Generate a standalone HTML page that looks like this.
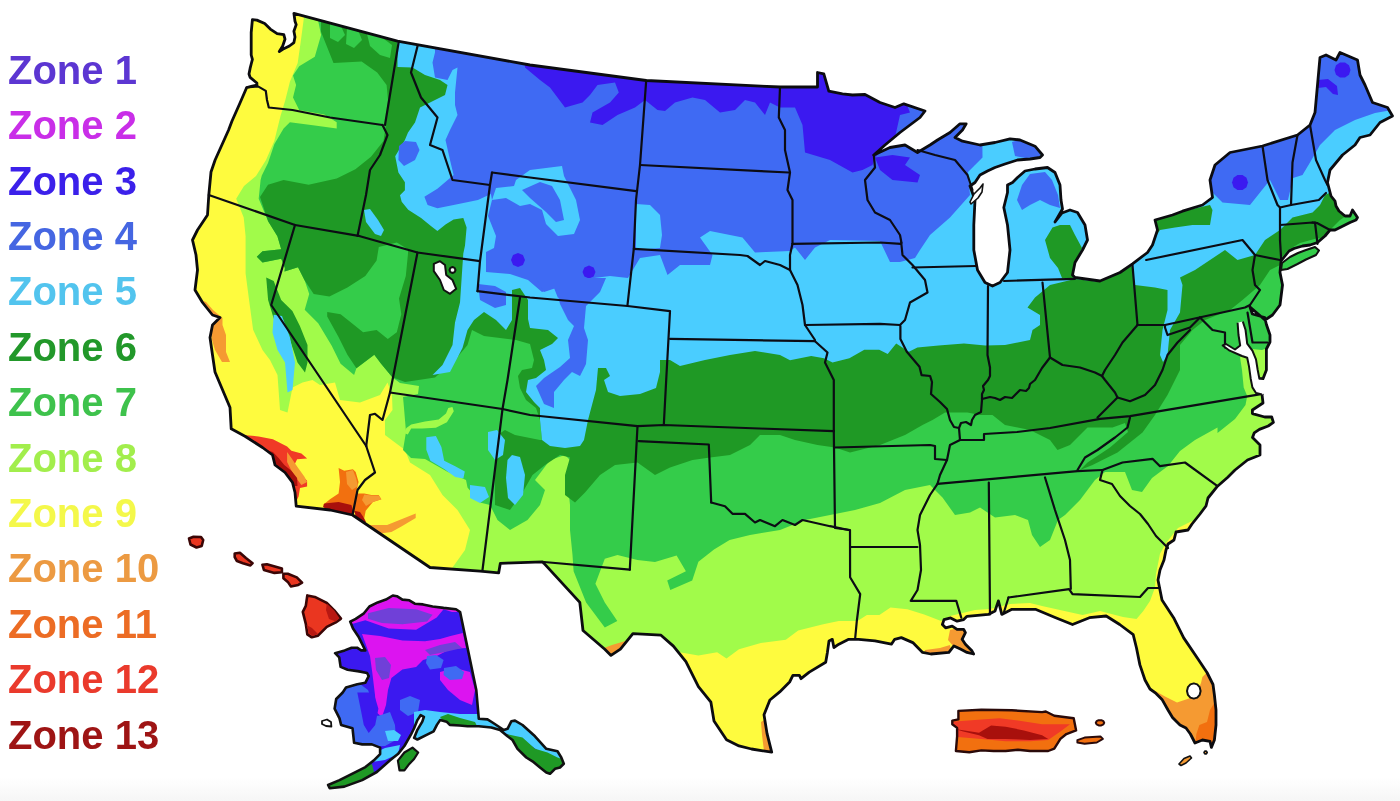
<!DOCTYPE html><html><head><meta charset="utf-8"><title>USDA Plant Hardiness Zones</title><style>
html,body{margin:0;padding:0;background:#fff;}body{width:1400px;height:801px;overflow:hidden;position:relative;}
.leg{position:absolute;left:0;top:0;margin:0;padding:0;list-style:none;}
.leg li{position:absolute;left:8px;white-space:nowrap;font-family:"Liberation Sans",Arial,sans-serif;font-weight:bold;font-size:40px;line-height:1;}
svg{position:absolute;left:0;top:0;filter:blur(0.45px);}
.fade{position:absolute;left:0;right:0;bottom:0;height:24px;background:linear-gradient(#fff,#f6f6f6);}
</style></head><body>
<div class="fade"></div>
<svg width="1400" height="801" viewBox="0 0 1400 801">
<defs><clipPath id="us"><path d="M252.4,19.6 L256.9,20.1 L264.7,23.5 L270.3,29.1 L277.1,33.6 L283.8,34.7 L285.0,39.2 L282.7,46.0 L279.3,51.6 L282.7,49.3 L289.4,46.0 L293.9,42.6 L295.0,37.0 L293.9,31.3 L296.2,24.6 L295.0,21.2 L293.9,13.4 L397.5,41.2 L530.0,65.0 L646.2,80.5 L780.0,87.0 L817.5,87.0 L817.5,72.5 L823.8,73.8 L828.8,91.2 L842.5,93.8 L852.5,95.0 L865.0,94.5 L880.0,102.5 L895.0,107.5 L903.8,103.8 L925.0,111.0 L920.0,117.5 L900.0,132.5 L885.0,145.0 L873.8,155.0 L890.0,147.5 L905.0,145.0 L917.5,152.5 L930.0,145.0 L937.5,140.0 L950.0,132.5 L960.0,123.8 L966.2,123.8 L962.5,130.0 L955.0,137.5 L962.5,141.2 L980.0,145.0 L995.0,142.5 L1010.0,138.8 L1020.0,140.0 L1035.0,146.2 L1042.5,155.0 L1040.0,157.5 L1030.0,159.0 L1017.5,160.0 L1005.0,164.0 L995.0,167.5 L987.5,171.0 L980.0,175.0 L975.0,182.5 L970.0,186.0 L975.0,200.0 L973.8,225.0 L973.8,250.0 L977.5,270.0 L985.0,282.5 L992.5,286.0 L1000.0,282.5 L1007.5,272.5 L1010.0,250.0 L1007.5,225.0 L1003.8,207.5 L1007.5,192.5 L1007.5,185.0 L1012.5,182.5 L1017.5,177.5 L1025.0,171.0 L1035.0,169.0 L1047.5,167.5 L1055.0,172.5 L1060.0,185.0 L1061.0,200.0 L1062.5,209.0 L1055.0,222.0 L1062.0,213.0 L1070.0,210.0 L1077.5,212.5 L1085.0,225.0 L1087.5,240.0 L1082.5,250.0 L1075.0,262.5 L1072.5,275.0 L1075.0,277.5 L1100.0,281.0 L1120.0,272.5 L1132.5,263.8 L1147.5,252.5 L1152.5,245.0 L1157.5,230.0 L1155.0,220.0 L1172.5,215.0 L1182.5,211.2 L1202.5,205.0 L1212.5,197.5 L1210.0,180.0 L1215.0,165.0 L1230.0,152.5 L1262.5,146.0 L1297.5,135.0 L1310.0,125.0 L1315.0,112.5 L1320.0,57.5 L1326.0,55.0 L1336.0,60.0 L1340.0,52.5 L1357.5,60.0 L1360.0,75.0 L1365.0,85.0 L1372.5,102.5 L1387.5,107.5 L1392.5,116.0 L1380.0,122.5 L1370.0,135.0 L1360.0,137.5 L1355.0,145.0 L1342.5,155.0 L1330.0,170.0 L1327.5,182.5 L1331.0,196.0 L1335.0,201.0 L1336.0,206.0 L1339.0,211.0 L1345.0,216.0 L1350.0,216.0 L1352.5,210.0 L1357.5,217.5 L1356.0,220.0 L1350.0,222.5 L1340.0,227.5 L1335.0,230.0 L1330.0,230.0 L1325.0,236.0 L1317.5,242.5 L1310.0,245.0 L1302.5,246.0 L1294.0,248.5 L1289.0,251.0 L1285.0,256.0 L1281.0,261.0 L1280.0,272.5 L1282.5,285.0 L1280.0,305.0 L1272.5,315.0 L1265.0,320.0 L1257.0,313.0 L1250.0,307.0 L1252.4,314.0 L1264.7,317.5 L1266.4,324.5 L1270.0,335.0 L1270.0,342.0 L1266.4,349.0 L1266.4,370.0 L1263.0,378.7 L1259.4,378.7 L1262.0,394.4 L1263.0,403.0 L1252.4,410.0 L1252.4,413.6 L1264.7,417.0 L1271.7,417.0 L1273.4,422.4 L1268.2,426.0 L1259.4,429.4 L1254.2,432.9 L1252.5,437.5 L1260.0,445.0 L1260.0,455.0 L1247.5,460.0 L1235.0,470.0 L1227.5,477.5 L1217.5,486.2 L1208.0,498.0 L1206.0,506.0 L1200.0,514.0 L1192.0,524.0 L1188.0,530.0 L1176.0,532.0 L1174.0,540.0 L1168.0,544.0 L1166.0,550.0 L1164.0,560.0 L1160.0,570.0 L1158.0,580.0 L1160.0,590.0 L1162.0,600.0 L1173.6,617.7 L1183.7,637.9 L1198.0,659.0 L1207.0,672.5 L1213.0,684.5 L1214.4,695.0 L1216.0,710.0 L1216.0,725.0 L1214.4,740.0 L1211.4,747.4 L1210.0,741.4 L1202.4,740.0 L1195.0,743.0 L1190.4,734.0 L1186.0,728.0 L1180.0,725.0 L1172.5,717.4 L1168.0,710.0 L1162.0,699.4 L1156.0,693.4 L1150.0,689.0 L1145.0,680.0 L1139.9,664.9 L1136.5,648.0 L1133.2,634.6 L1119.7,624.5 L1106.2,616.0 L1089.4,617.7 L1072.5,624.5 L1055.7,617.7 L1035.4,609.3 L1022.0,609.3 L1011.9,609.3 L1001.8,614.4 L998.4,600.9 L995.0,611.0 L988.3,614.4 L967.0,616.3 L963.7,619.6 L957.1,621.2 L950.6,617.9 L944.0,619.6 L942.4,624.5 L945.6,627.8 L952.2,626.1 L957.1,629.4 L963.7,629.4 L965.4,632.7 L962.1,639.3 L965.4,644.2 L971.9,650.8 L973.6,654.0 L967.0,652.4 L960.4,649.1 L953.9,645.9 L948.9,652.4 L930.9,654.0 L922.6,652.4 L912.8,642.6 L901.3,637.6 L894.7,639.3 L891.4,644.2 L875.0,640.9 L858.6,639.3 L848.7,639.3 L838.9,644.2 L833.9,647.5 L832.3,639.3 L829.0,641.0 L827.4,652.4 L825.7,662.3 L809.3,672.1 L801.0,678.7 L799.4,675.4 L792.9,675.4 L789.6,682.0 L779.7,691.9 L769.9,700.0 L764.0,714.7 L767.0,733.4 L771.7,752.2 L751.5,749.0 L739.0,745.9 L726.5,739.7 L714.0,721.0 L710.9,702.2 L698.4,686.6 L685.9,661.7 L673.4,646.1 L661.0,635.2 L632.9,633.6 L620.4,649.2 L611.0,655.4 L604.8,649.2 L583.0,630.5 L579.8,602.4 L544.0,563.4 L542.4,561.8 L500.3,563.4 L498.7,572.8 L480.0,571.2 L430.0,567.5 L352.5,515.0 L330.0,510.0 L296.2,506.2 L295.0,492.5 L292.5,482.5 L285.0,472.5 L275.0,465.0 L272.5,455.0 L262.5,447.5 L245.0,436.2 L231.2,428.8 L230.0,407.5 L215.0,372.0 L212.5,355.0 L210.0,337.5 L212.5,325.0 L220.0,317.5 L212.5,315.0 L202.5,302.5 L195.0,290.0 L197.5,270.0 L196.0,255.0 L192.5,240.0 L197.5,230.0 L207.5,215.0 L208.8,195.0 L211.0,172.0 L215.1,160.0 L228.6,130.0 L232.0,121.0 L240.0,103.0 L246.7,87.5 L251.2,86.4 L256.9,85.0 L256.9,83.0 L250.1,77.4 L249.0,74.0 L250.1,68.4 L251.2,64.0 L252.4,59.4 L251.2,55.0 L251.2,32.5Z"/></clipPath><clipPath id="ak"><path d="M350.2,621.6 L355.7,618.8 L363.9,613.3 L369.4,606.5 L377.7,602.4 L385.9,599.6 L392.8,595.5 L396.9,596.2 L402.4,599.6 L409.3,600.3 L414.8,603.7 L423.0,604.4 L432.6,606.5 L443.6,607.9 L456.0,609.2 L460.1,612.0 L476.3,690.0 L478.8,718.8 L487.5,719.4 L492.5,722.5 L503.8,730.0 L507.5,728.8 L511.3,721.3 L515.0,720.6 L522.5,725.0 L535.0,736.3 L546.3,748.8 L557.5,751.3 L561.3,757.5 L563.8,763.8 L560.0,767.5 L555.0,768.8 L550.0,773.8 L546.3,772.5 L540.0,767.5 L532.5,761.3 L526.3,757.5 L517.5,748.8 L512.5,740.0 L507.5,736.3 L500.0,730.0 L491.3,727.5 L478.8,726.3 L467.5,726.3 L459.6,725.5 L449.8,724.9 L446.6,721.7 L440.1,720.1 L436.9,724.9 L433.6,731.4 L427.1,734.7 L417.4,739.5 L414.1,737.9 L417.4,729.8 L422.3,721.7 L423.9,716.8 L420.6,715.2 L417.4,720.1 L414.1,728.2 L410.9,734.7 L404.4,746.0 L397.9,754.1 L389.8,760.6 L376.8,772.0 L362.2,780.1 L344.3,786.6 L329.7,788.2 L328.1,785.0 L339.5,780.1 L352.5,773.6 L365.4,767.1 L373.6,760.6 L380.1,754.1 L380.1,747.6 L371.9,744.4 L362.2,744.4 L354.1,742.8 L352.5,728.2 L341.1,724.9 L339.5,718.4 L334.6,708.7 L336.2,699.0 L342.7,692.5 L346.0,687.6 L357.3,684.3 L365.4,682.7 L368.7,676.2 L367.1,673.0 L359.0,671.4 L347.6,669.7 L340.6,666.9 L339.2,657.3 L335.1,653.2 L344.7,650.4 L351.6,647.7 L357.1,647.7 L361.2,650.4 L365.3,650.4 L361.2,642.2 L358.5,636.7 L353.0,628.5Z"/></clipPath><clipPath id="pr"><path d="M958.4,710.9 L981.4,709.7 L1011.8,710.3 L1042.1,712.1 L1045.8,711.5 L1054.3,715.8 L1073.7,718.2 L1074.9,724.3 L1076.1,730.4 L1066.4,734.0 L1060.4,738.9 L1054.3,748.6 L1048.2,751.0 L1030.0,751.0 L1017.9,749.8 L1005.7,751.0 L993.6,751.0 L981.4,750.4 L969.3,752.2 L955.9,751.0 L957.1,736.4 L957.1,727.9 L952.3,724.3 L952.3,720.6 L958.4,719.4Z"/></clipPath></defs>
<g clip-path="url(#us)">
<rect x="150" y="0" width="1300" height="801" fill="#fefb3e"/>
<path d="M304.0,-5.0 L303.9,17.8 L300.8,41.2 L297.7,63.0 L289.9,81.8 L285.2,100.5 L280.5,116.1 L274.3,141.1 L266.0,160.0 L256.0,176.0 L244.0,186.0 L236.2,198.7 L243.7,217.5 L245.6,236.2 L245.6,273.6 L249.3,301.7 L253.1,329.8 L262.5,350.0 L270.0,360.0 L277.5,375.0 L280.0,410.0 L287.5,412.5 L292.5,387.5 L302.5,382.5 L312.5,380.0 L320.0,385.0 L335.0,382.5 L340.0,400.0 L360.0,402.5 L380.0,395.0 L387.5,382.5 L392.0,395.0 L392.5,410.0 L385.0,420.0 L385.0,435.0 L405.0,450.0 L410.0,462.5 L430.0,475.0 L442.5,495.0 L457.5,510.0 L470.0,530.0 L465.0,550.0 L452.5,567.5 L452.0,620.0 L660.0,670.0 L679.7,652.3 L698.4,655.4 L717.1,652.3 L726.5,658.6 L739.0,649.2 L760.8,643.0 L785.8,639.8 L798.2,630.5 L823.2,624.2 L838.8,621.1 L857.5,621.1 L866.9,614.9 L879.4,614.9 L890.5,607.6 L907.4,609.3 L924.2,614.4 L941.1,621.1 L950.0,616.0 L975.0,610.0 L990.0,609.0 L1010.0,604.0 L1030.0,603.0 L1042.0,606.0 L1069.0,612.0 L1082.6,615.0 L1100.0,611.0 L1123.0,617.0 L1136.5,619.0 L1143.3,611.0 L1150.0,600.9 L1155.0,587.4 L1156.0,573.9 L1160.0,553.7 L1166.0,543.0 L1178.0,528.0 L1190.0,522.0 L1300.0,480.0 L1420.0,300.0 L1420.0,-5.0Z" fill="#a1fb4a"/>
<path d="M317.9,-5.0 L317.9,19.4 L321.1,35.0 L314.8,56.8 L299.2,66.2 L293.0,75.5 L296.1,84.9 L293.0,97.4 L299.2,109.9 L324.2,114.5 L336.7,122.3 L336.7,128.6 L314.8,125.5 L289.9,122.3 L283.6,128.6 L274.3,144.2 L268.0,162.9 L261.8,175.4 L260.6,180.0 L258.7,198.7 L268.1,221.2 L277.4,236.2 L281.2,249.3 L262.5,251.2 L256.8,256.8 L262.5,262.4 L281.2,258.7 L284.9,268.0 L284.5,271.6 L298.0,267.2 L304.7,280.6 L309.2,294.1 L304.7,309.8 L318.2,323.3 L331.7,345.8 L340.6,363.7 L354.1,375.0 L356.4,368.2 L374.3,354.7 L381.1,363.7 L392.3,377.2 L400.0,383.0 L419.0,386.0 L418.0,394.0 L403.0,397.0 L404.0,408.0 L406.0,432.0 L403.0,450.0 L411.0,458.0 L425.0,459.0 L447.0,471.6 L466.0,480.0 L467.5,487.5 L480.0,502.5 L490.0,505.0 L497.5,520.0 L510.0,530.0 L527.5,520.0 L540.0,505.0 L545.0,490.0 L535.0,480.0 L550.0,460.0 L565.0,455.0 L570.0,460.0 L567.5,480.0 L570.0,505.0 L570.0,530.0 L572.5,555.0 L573.6,571.2 L586.1,602.4 L604.8,627.4 L617.3,621.1 L604.8,602.4 L595.4,583.7 L604.8,558.7 L617.5,555.0 L637.5,560.0 L655.0,562.0 L676.6,555.6 L685.9,571.2 L667.2,580.6 L670.3,589.9 L692.2,580.6 L698.4,561.8 L714.0,549.4 L729.6,540.0 L750.0,535.0 L780.0,530.0 L805.0,520.0 L830.0,515.0 L855.0,510.0 L880.0,503.0 L905.0,490.0 L930.0,485.0 L942.5,497.5 L955.0,515.0 L970.0,512.5 L980.0,507.5 L995.0,517.5 L1015.0,515.0 L1028.0,520.0 L1032.0,535.0 L1040.0,547.0 L1050.0,540.0 L1058.0,520.0 L1065.0,515.0 L1080.0,500.0 L1095.0,480.0 L1105.0,472.0 L1125.0,472.0 L1132.0,490.0 L1142.0,492.0 L1152.0,478.0 L1168.0,466.0 L1180.0,451.0 L1195.0,440.0 L1217.5,427.5 L1217.5,432.9 L1235.0,419.0 L1245.5,405.0 L1247.2,396.0 L1243.7,387.4 L1242.0,370.0 L1240.0,357.0 L1252.0,349.0 L1262.0,350.0 L1275.0,345.0 L1300.0,300.0 L1420.0,250.0 L1420.0,-5.0Z" fill="#34cc4a"/>
<path d="M321.0,-5.0 L321.0,31.8 L327.3,47.4 L333.5,63.0 L361.6,61.5 L377.2,72.4 L386.6,84.9 L388.0,100.0 L386.0,125.0 L383.5,141.1 L371.0,156.7 L355.4,169.2 L336.7,178.5 L308.6,184.8 L283.6,180.1 L268.0,184.8 L260.0,197.0 L268.1,221.2 L277.4,236.2 L281.2,249.3 L262.5,251.2 L256.8,256.8 L262.5,262.4 L281.2,258.7 L284.9,268.0 L284.5,271.6 L298.0,267.2 L304.7,280.6 L313.7,294.1 L329.4,296.4 L347.4,287.4 L365.3,276.1 L376.6,260.4 L378.8,247.0 L396.8,242.5 L408.0,249.2 L408.0,253.7 L405.8,276.1 L399.0,298.6 L401.3,314.3 L396.8,332.3 L387.8,339.0 L376.6,330.0 L363.1,332.3 L351.9,323.3 L340.6,314.3 L327.2,312.1 L327.2,316.6 L338.4,336.8 L347.4,354.7 L356.4,368.2 L374.3,354.7 L381.1,363.7 L392.3,377.2 L405.0,382.0 L435.0,377.5 L455.0,360.0 L467.5,345.0 L472.0,330.0 L484.0,336.0 L500.0,338.0 L516.0,340.0 L530.0,344.0 L534.0,360.0 L532.0,368.0 L522.0,370.0 L518.0,376.0 L520.0,388.0 L526.0,400.0 L536.0,408.0 L540.0,420.0 L542.0,440.0 L540.0,440.0 L515.0,435.0 L505.0,430.0 L497.5,435.0 L495.0,455.0 L495.0,505.0 L510.0,510.0 L522.5,492.5 L532.5,475.0 L545.0,465.0 L560.0,455.0 L570.0,457.5 L565.0,475.0 L565.0,495.0 L575.0,502.5 L585.0,492.5 L600.0,475.0 L615.0,465.0 L637.5,462.5 L655.0,475.0 L670.0,467.5 L692.5,460.0 L710.0,457.5 L730.0,455.0 L750.0,445.0 L760.0,435.0 L780.0,435.0 L795.0,440.0 L817.5,445.0 L835.0,447.5 L850.0,452.5 L880.0,445.0 L905.0,435.0 L922.5,425.0 L932.5,420.0 L945.0,412.5 L967.5,412.5 L980.0,415.0 L992.5,415.0 L1005.0,425.0 L1030.0,430.0 L1050.0,440.0 L1057.5,450.0 L1070.0,445.0 L1087.5,427.5 L1112.5,427.5 L1125.0,423.0 L1128.0,432.0 L1110.0,447.5 L1087.5,462.5 L1080.0,470.0 L1092.5,465.0 L1117.5,452.5 L1142.5,432.5 L1155.0,415.0 L1167.5,395.0 L1180.0,370.0 L1180.0,345.0 L1192.5,330.0 L1205.0,320.0 L1230.0,310.0 L1242.5,300.0 L1260.0,285.0 L1270.0,270.0 L1280.0,265.0 L1300.0,255.0 L1318.0,247.0 L1340.0,235.0 L1420.0,240.0 L1420.0,-5.0Z" fill="#1f9925"/>
<path d="M397.5,-5.0 L397.5,67.0 L412.5,67.5 L425.0,75.0 L440.0,80.0 L447.5,85.0 L445.0,95.0 L430.0,102.5 L420.0,107.5 L415.0,122.5 L408.0,132.5 L404.9,140.0 L395.2,156.2 L398.4,172.5 L404.9,182.2 L404.9,190.3 L400.0,195.2 L401.7,201.7 L408.2,209.8 L421.1,217.9 L430.9,226.0 L437.4,230.9 L445.5,224.4 L453.6,219.5 L463.3,217.9 L466.6,227.6 L465.0,245.5 L463.3,253.6 L462.5,265.0 L460.0,302.5 L455.0,322.5 L452.5,345.0 L442.5,365.0 L432.5,375.0 L450.0,372.0 L462.5,348.0 L467.5,330.0 L474.0,320.0 L484.0,312.0 L496.0,320.0 L506.0,330.0 L512.0,320.0 L514.0,292.0 L522.0,292.0 L526.0,310.0 L530.0,328.0 L548.0,330.0 L558.0,338.0 L552.0,344.0 L540.0,350.0 L544.0,360.0 L546.0,370.0 L536.0,378.0 L528.0,380.0 L526.0,392.0 L534.0,402.0 L540.0,408.0 L540.0,420.0 L542.0,440.0 L550.0,446.0 L565.0,448.0 L580.0,446.0 L584.0,440.0 L588.0,420.0 L596.0,390.0 L598.0,368.0 L606.0,368.0 L610.0,376.0 L604.0,380.0 L608.0,392.0 L620.0,396.0 L640.0,394.0 L656.0,388.0 L660.0,372.0 L660.0,360.0 L670.0,360.0 L680.0,366.0 L705.0,360.0 L730.0,355.0 L755.0,351.0 L780.0,355.0 L790.0,360.3 L811.2,356.0 L824.0,358.2 L832.5,362.5 L849.4,358.2 L864.3,349.7 L879.2,349.7 L887.7,354.0 L896.2,343.4 L908.9,351.8 L917.4,347.6 L938.6,345.5 L964.0,343.4 L985.3,345.5 L1005.0,345.0 L1030.0,340.0 L1032.5,330.0 L1040.0,325.0 L1040.0,315.0 L1027.5,307.5 L1035.0,297.5 L1050.0,285.0 L1075.0,279.0 L1100.0,282.0 L1132.0,266.0 L1135.0,285.0 L1155.0,287.5 L1167.5,290.0 L1167.5,310.0 L1162.5,330.0 L1160.0,355.0 L1163.0,362.0 L1167.5,355.0 L1170.0,330.0 L1180.0,312.5 L1182.5,285.0 L1180.0,277.5 L1195.0,270.0 L1217.5,255.0 L1225.0,250.0 L1237.5,260.0 L1255.0,255.0 L1265.0,240.0 L1280.0,230.0 L1292.5,217.5 L1312.5,212.5 L1320.0,205.0 L1325.0,195.0 L1420.0,150.0 L1420.0,-5.0Z" fill="#4acdff"/>
<path d="M435.0,-5.0 L435.0,52.5 L432.5,62.5 L435.0,77.5 L447.5,80.0 L452.5,70.0 L457.5,67.5 L455.0,92.5 L455.0,105.0 L457.5,115.0 L450.0,130.0 L445.5,140.0 L450.0,160.0 L453.6,175.0 L437.4,188.7 L424.4,196.8 L427.6,204.9 L437.4,208.2 L453.6,204.9 L477.9,200.0 L490.9,194.0 L492.0,200.0 L488.0,216.0 L496.0,236.0 L494.0,248.0 L486.0,252.0 L486.0,272.0 L510.0,274.0 L528.0,280.0 L542.0,292.0 L554.0,288.0 L558.0,298.0 L560.0,296.0 L590.0,296.0 L597.5,285.0 L612.5,277.5 L627.5,278.8 L640.0,258.0 L660.0,255.0 L667.5,275.0 L680.0,265.0 L710.0,265.0 L712.5,255.0 L700.0,237.5 L710.0,231.0 L742.5,237.5 L755.0,252.5 L790.0,251.0 L795.0,247.5 L805.0,260.0 L815.0,247.5 L830.0,240.0 L880.0,241.0 L890.0,262.0 L900.0,262.0 L915.0,258.0 L920.0,250.0 L930.0,235.0 L950.0,217.5 L970.0,195.0 L968.0,172.0 L975.0,165.0 L982.5,157.5 L982.0,100.0 L900.0,-5.0Z" fill="#3f6af3"/>
<path d="M1205.0,185.0 L1212.0,160.0 L1230.0,150.0 L1262.0,143.0 L1300.0,130.0 L1312.0,118.0 L1318.0,50.0 L1340.0,45.0 L1362.0,58.0 L1372.0,100.0 L1392.0,110.0 L1375.0,113.0 L1355.0,120.0 L1335.0,130.0 L1320.0,145.0 L1310.0,162.5 L1302.5,175.0 L1293.0,178.0 L1288.0,200.0 L1280.0,200.0 L1270.0,180.0 L1262.0,190.0 L1250.0,205.0 L1222.5,202.5Z" fill="#3f6af3"/>
<path d="M1012.0,142.0 L1025.0,138.0 L1040.0,148.0 L1040.0,157.0 L1025.0,158.0 L1015.0,156.0Z" fill="#3f6af3"/>
<path d="M1017.0,200.0 L1022.0,185.0 L1030.0,174.0 L1045.0,172.0 L1052.0,180.0 L1058.0,195.0 L1060.0,208.0 L1050.0,205.0 L1040.0,200.0 L1030.0,205.0 L1022.0,210.0Z" fill="#3f6af3"/>
<path d="M520.0,-5.0 L525.0,67.5 L540.0,80.0 L550.0,87.5 L557.5,97.5 L565.0,107.5 L582.5,102.5 L590.0,95.0 L597.5,85.0 L615.0,82.5 L618.8,92.5 L610.0,102.5 L592.5,112.5 L590.0,122.5 L602.5,125.0 L617.5,115.0 L635.0,107.5 L645.0,100.0 L657.5,110.0 L665.0,111.0 L675.0,102.5 L692.5,97.5 L705.0,100.0 L720.0,112.5 L735.0,110.0 L745.0,100.0 L755.0,102.5 L765.0,115.0 L770.0,102.5 L780.0,107.5 L795.0,107.5 L802.5,125.0 L805.0,152.5 L830.0,160.0 L852.5,172.5 L862.5,170.0 L872.5,165.0 L875.0,157.5 L885.0,147.0 L895.0,137.5 L900.0,115.0 L910.0,112.5 L905.0,100.0 L880.0,-5.0Z" fill="#3b19f0"/>
<path d="M875.0,157.5 L892.5,155.0 L910.0,157.5 L905.0,165.0 L920.0,175.0 L917.5,182.5 L892.5,180.0 L880.0,170.0Z" fill="#3b19f0"/>
<path d="M492.0,200.0 L496.0,188.0 L514.0,186.0 L516.0,180.0 L530.0,170.0 L562.0,166.0 L564.0,176.0 L576.0,200.0 L580.0,220.0 L574.0,234.0 L558.0,236.0 L546.0,224.0 L542.0,210.0 L530.0,204.0 L520.0,206.0 L506.0,198.0Z" fill="#4acdff"/>
<path d="M522.0,190.0 L540.0,182.0 L552.0,186.0 L560.0,200.0 L564.0,220.0 L556.0,222.0 L546.0,212.0 L530.0,198.0Z" fill="#3f6af3"/>
<path d="M594.0,278.0 L610.0,276.0 L628.0,278.0 L630.0,300.0 L628.0,306.0 L590.0,306.0 L588.0,288.0Z" fill="#4acdff"/>
<path d="M478.0,284.0 L495.0,286.0 L506.0,292.0 L506.0,305.0 L495.0,308.0 L480.0,300.0Z" fill="#3f6af3"/>
<path d="M636.0,204.0 L650.0,205.0 L660.0,215.0 L662.0,235.0 L660.0,248.0 L636.0,250.0Z" fill="#4acdff"/>
<path d="M525.0,260.0 L522.9,264.9 L518.0,267.0 L513.1,265.0 L511.0,260.0 L513.0,255.1 L518.0,253.0 L522.9,255.0Z" fill="#3b19f0"/>
<path d="M595.5,272.0 L593.6,276.6 L589.0,278.5 L584.4,276.6 L582.5,272.0 L584.4,267.4 L589.0,265.5 L593.6,267.4Z" fill="#3b19f0"/>
<path d="M364.0,210.0 L370.0,209.0 L378.0,220.0 L384.0,230.0 L381.0,236.0 L375.0,234.0 L366.0,222.0Z" fill="#4acdff"/>
<path d="M399.0,146.0 L405.0,141.0 L416.0,142.0 L419.5,150.0 L415.0,160.0 L404.0,166.0 L398.4,160.0Z" fill="#3f6af3"/>
<path d="M330.0,22.0 L340.0,24.0 L345.0,35.0 L338.0,42.0 L330.0,38.0Z" fill="#34cc4a"/>
<path d="M347.0,28.0 L358.0,30.0 L362.0,40.0 L354.0,48.0 L346.0,44.0Z" fill="#34cc4a"/>
<path d="M367.0,34.0 L380.0,36.0 L392.0,45.0 L390.0,58.0 L380.0,55.0 L370.0,46.0Z" fill="#34cc4a"/>
<path d="M266.2,277.4 L273.7,281.1 L281.2,299.9 L292.4,311.1 L299.9,326.1 L307.5,345.0 L307.5,362.5 L305.0,372.5 L297.5,362.5 L287.5,332.5 L273.7,318.6 L268.1,299.9Z" fill="#1f9925"/>
<path d="M273.7,314.8 L282.0,316.0 L290.0,337.5 L295.0,362.5 L292.5,390.0 L287.5,392.5 L285.0,362.5 L277.5,350.0 L272.5,332.5Z" fill="#4acdff"/>
<path d="M512.0,290.0 L520.0,288.0 L528.0,300.0 L528.0,320.0 L512.0,320.0Z" fill="#1f9925"/>
<path d="M536.0,278.0 L544.0,292.0 L556.0,288.0 L560.0,304.0 L568.0,320.0 L574.0,326.0 L568.0,340.0 L570.0,358.0 L560.0,367.0 L544.0,378.0 L536.0,386.0 L544.0,404.0 L554.0,408.0 L554.0,392.0 L564.0,380.0 L572.0,372.0 L580.0,376.0 L586.0,364.0 L588.0,340.0 L584.0,328.0 L586.0,306.0 L600.0,292.0 L606.0,278.0Z" fill="#3f6af3"/>
<path d="M507.5,460.0 L512.0,455.0 L520.0,457.0 L525.0,475.0 L523.0,495.0 L515.0,505.0 L508.0,498.0 L506.0,478.0Z" fill="#4acdff"/>
<path d="M426.3,437.3 L435.9,435.9 L441.4,446.9 L444.2,460.7 L455.2,466.2 L464.8,471.6 L463.4,478.5 L455.2,477.1 L444.2,468.9 L430.4,460.7 L426.3,449.7Z" fill="#4acdff"/>
<path d="M448.3,408.0 L452.4,407.1 L453.8,411.2 L446.9,422.2 L435.9,427.7 L422.2,428.5 L411.2,428.5 L407.8,434.6 L404.0,433.0 L406.4,428.0 L411.2,424.5 L425.0,421.5 L438.7,419.5 L446.0,413.5Z" fill="#a1fb4a"/>
<path d="M470.0,485.0 L485.0,487.0 L489.0,497.0 L480.0,503.0 L470.0,498.0Z" fill="#4acdff"/>
<path d="M488.0,432.0 L497.0,430.0 L505.0,440.0 L503.0,455.0 L495.0,460.0 L488.0,450.0Z" fill="#4acdff"/>
<path d="M1045.0,240.0 L1052.5,227.5 L1060.0,225.0 L1070.0,225.0 L1075.0,235.0 L1082.0,248.0 L1075.0,262.0 L1073.0,278.0 L1062.0,278.0 L1058.0,268.0 L1050.0,258.0Z" fill="#1f9925"/>
<path d="M1150.0,218.0 L1175.0,213.0 L1210.0,205.0 L1212.5,210.0 L1210.0,225.0 L1192.5,225.0 L1175.0,227.5 L1160.0,230.0 L1152.0,242.0Z" fill="#1f9925"/>
<path d="M1330.0,230.0 L1340.0,220.0 L1352.0,212.0 L1358.0,218.0 L1345.0,226.0 L1335.0,232.0Z" fill="#34cc4a"/>
<path d="M1281.0,258.0 L1288.0,250.0 L1300.0,243.0 L1318.0,238.0 L1325.0,240.0 L1320.0,246.0 L1300.0,250.0 L1286.0,262.0Z" fill="#34cc4a"/>
<path d="M1248.0,182.5 L1246.5,187.2 L1242.5,190.1 L1237.5,190.1 L1233.5,187.2 L1232.0,182.5 L1233.5,177.8 L1237.5,174.9 L1242.5,174.9 L1246.5,177.8Z" fill="#3b19f0"/>
<path d="M1350.5,70.0 L1349.0,74.7 L1345.0,77.6 L1340.0,77.6 L1336.0,74.7 L1334.5,70.0 L1336.0,65.3 L1340.0,62.4 L1345.0,62.4 L1349.0,65.3Z" fill="#3b19f0"/>
<path d="M1318.0,80.0 L1328.0,79.0 L1337.0,86.0 L1338.0,95.0 L1333.0,94.0 L1326.0,87.0 L1318.0,88.0Z" fill="#3b19f0"/>
<path d="M201.0,300.0 L206.0,302.0 L213.0,310.0 L222.5,318.0 L222.5,325.0 L226.0,335.0 L226.0,352.0 L230.0,362.0 L222.0,362.0 L215.0,350.0 L212.0,340.0 L210.0,330.0 L207.0,318.0Z" fill="#f59a32"/>
<path d="M238.0,437.0 L242.9,435.0 L258.6,436.4 L272.9,439.3 L287.1,446.4 L291.4,450.7 L301.4,453.6 L307.1,458.6 L297.1,459.3 L294.3,465.0 L301.4,475.0 L307.1,480.7 L307.1,486.4 L300.0,487.9 L298.6,496.4 L296.0,502.0 L295.0,487.9 L291.4,482.1 L280.0,467.9 L274.3,465.0 L272.9,457.9 L267.1,455.0 L244.3,440.7Z" fill="#f03a26"/>
<path d="M287.1,452.1 L291.4,457.9 L297.1,466.4 L304.3,476.4 L307.1,482.1 L301.4,485.0 L297.1,479.3 L291.4,470.7 L287.1,462.1Z" fill="#f59a32"/>
<path d="M262.9,449.3 L272.9,452.1 L278.6,457.9 L284.3,465.0 L291.4,470.7 L297.1,477.9 L297.5,486.0 L294.0,486.0 L289.0,478.0 L280.0,468.0 L274.0,464.0 L272.0,458.0 L266.0,455.0Z" fill="#a8100c"/>
<path d="M338.6,467.9 L344.3,470.7 L352.9,469.3 L355.7,472.1 L358.6,482.1 L355.7,493.6 L364.3,493.6 L371.4,495.0 L378.6,495.0 L381.4,499.3 L372.9,502.1 L365.7,510.7 L364.3,517.9 L358.6,515.0 L351.4,510.7 L330.0,509.3 L322.9,505.0 L330.0,499.3 L338.6,493.6 L340.0,482.1Z" fill="#f2700f"/>
<path d="M346.0,472.0 L352.9,470.0 L356.0,478.0 L358.0,486.0 L352.0,490.0 L347.0,484.0Z" fill="#f59a32"/>
<path d="M364.3,494.5 L371.4,495.5 L378.6,495.5 L381.4,499.3 L372.9,502.1 L366.0,506.0 L362.0,500.0Z" fill="#f59a32"/>
<path d="M324.3,503.6 L338.6,502.1 L351.4,505.0 L354.0,514.0 L351.4,514.0 L330.0,511.0 L323.0,507.0Z" fill="#a8100c"/>
<path d="M354.3,510.7 L360.0,512.0 L364.0,518.0 L366.0,522.0 L362.0,524.0 L356.0,518.0Z" fill="#a8100c"/>
<path d="M370.0,525.0 L387.1,525.0 L401.4,519.3 L415.7,513.6 L415.7,517.9 L401.4,526.4 L391.4,532.1 L380.0,533.6 L370.0,527.9Z" fill="#f59a32"/>
<path d="M604.0,648.0 L612.0,645.0 L622.0,642.0 L629.0,640.0 L626.0,650.0 L615.0,657.0 L608.0,654.0Z" fill="#f59a32"/>
<path d="M761.0,722.0 L766.0,719.0 L769.0,735.0 L772.0,753.0 L764.0,751.0 L762.0,735.0Z" fill="#f59a32"/>
<path d="M950.0,630.0 L958.0,628.0 L966.0,630.0 L963.0,638.0 L966.0,644.0 L975.0,654.0 L967.0,654.0 L960.0,650.0 L954.0,647.0 L948.0,640.0Z" fill="#f59a32"/>
<path d="M925.0,650.0 L940.0,648.0 L950.0,645.0 L952.0,656.0 L925.0,657.0Z" fill="#f59a32"/>
<path d="M1150.0,688.0 L1165.0,696.4 L1177.0,702.4 L1186.0,699.4 L1195.0,696.4 L1201.0,683.0 L1202.4,677.0 L1207.0,672.5 L1215.0,675.0 L1220.0,745.0 L1195.0,750.0 L1170.0,730.0 L1145.0,700.0Z" fill="#f59a32"/>
<path d="M1218.0,697.0 L1210.0,710.0 L1207.0,722.0 L1199.4,725.0 L1196.4,734.0 L1195.0,746.0 L1215.0,752.0 L1222.0,700.0Z" fill="#f2700f"/>
</g>
<g fill="#fff" stroke="#111" stroke-width="2" stroke-linejoin="round">
<path d="M433.8,263.8 L440.0,261.2 L445.0,265.0 L446.2,275.0 L452.5,280.0 L456.2,288.8 L450.0,293.8 L443.8,290.0 L440.0,280.0 L433.8,271.2Z"/>
<path d="M455.5,270.0 L454.6,272.1 L452.5,273.0 L450.4,272.1 L449.5,270.0 L450.4,267.9 L452.5,267.0 L454.6,267.9Z"/>
<path d="M1200.6,691.0 L1199.7,694.8 L1197.2,697.6 L1193.8,698.6 L1190.4,697.6 L1187.9,694.8 L1187.0,691.0 L1187.9,687.2 L1190.4,684.4 L1193.8,683.4 L1197.2,684.4 L1199.7,687.2Z"/>
</g>
<g fill="none" stroke="#0c0c14" stroke-width="2.2" stroke-linejoin="round" stroke-linecap="round">
<polyline points="246.7,87.5 258.0,86.4 265.8,90.9 267.0,100.0 268.8,107.5 292.5,110.0 330.0,117.5 382.5,125.0"/>
<polyline points="398.8,41.2 385.0,125.0"/>
<polyline points="382.5,125.0 387.5,135.0 380.0,155.0 370.0,170.0 366.0,195.0 357.5,236.0"/>
<polyline points="208.8,195.0 295.0,225.0 360.0,236.2 417.5,252.5 480.0,261.2"/>
<polyline points="417.5,46.2 411.0,72.5 421.0,97.5 437.5,117.5 430.0,145.0 442.5,150.0 452.5,180.0 490.0,185.0"/>
<polyline points="492.0,172.5 490.0,185.0 480.0,261.2 477.5,291.2"/>
<polyline points="492.0,172.5 530.0,177.5 636.2,191.2"/>
<polyline points="646.2,80.5 640.0,165.0 636.0,200.0 633.8,248.8 627.5,305.0"/>
<polyline points="640.0,165.0 788.8,172.5"/>
<polyline points="780.0,87.0 778.8,117.5 785.0,130.0 785.0,150.0 790.0,172.5 787.5,190.0 792.5,200.0 792.5,243.8"/>
<polyline points="633.8,248.8 740.0,255.0 747.5,256.0 760.0,265.0 765.0,261.0 780.0,265.0 790.0,270.0"/>
<polyline points="792.5,243.8 790.0,255.0 790.0,270.0"/>
<polyline points="792.5,243.8 880.0,242.5 901.0,243.8"/>
<polyline points="873.8,155.0 875.0,167.5 865.0,180.0 867.5,200.0 875.0,212.5 890.0,220.0 900.0,235.0 901.5,243.0"/>
<polyline points="917.5,150.0 935.0,155.0 955.0,160.0 967.5,175.0 972.5,190.0"/>
<polyline points="901.2,242.5 902.5,255.0 912.5,265.0 925.0,280.0 927.5,292.5 910.0,302.5 905.0,320.0 900.0,325.0"/>
<polyline points="912.5,267.5 976.0,266.0"/>
<polyline points="805.0,325.0 880.0,323.8 900.0,325.0"/>
<polyline points="790.0,270.0 797.5,285.0 802.5,305.0 805.0,325.0 815.0,340.0"/>
<polyline points="670.0,338.8 815.0,341.2"/>
<polyline points="815.0,341.2 827.5,352.5 825.0,362.5 833.8,380.0 833.8,431.2"/>
<polyline points="477.5,291.2 530.0,297.5 627.5,306.0"/>
<polyline points="627.5,306.0 670.0,311.2 666.2,380.0 663.8,425.0"/>
<polyline points="520.0,297.5 507.5,380.0 502.5,409.0"/>
<polyline points="417.5,252.5 392.5,380.0 390.0,392.5"/>
<polyline points="295.0,225.0 271.2,305.0 366.2,446.0"/>
<polyline points="390.0,392.5 382.5,420.0 375.0,413.8 370.0,415.0 366.2,446.0"/>
<polyline points="390.0,392.5 502.5,409.0"/>
<polyline points="502.5,409.0 530.0,415.0 637.5,426.2 663.8,425.0 833.8,431.2"/>
<polyline points="502.5,409.0 482.5,570.0"/>
<polyline points="366.2,446.0 367.5,450.0 375.0,472.5 365.0,480.0 357.5,490.0 355.0,502.5 352.5,515.0"/>
<polyline points="637.5,426.2 629.8,569.6"/>
<polyline points="544.0,562.0 629.8,569.6"/>
<polyline points="638.8,441.2 708.8,444.5 711.2,502.5"/>
<polyline points="711.2,502.5 725.0,506.2 732.5,513.8 745.0,513.8 755.0,522.5 760.0,520.0 775.0,526.2 782.5,520.0 795.0,525.0 802.5,520.0 830.0,526.2 848.8,530.0"/>
<polyline points="833.8,431.2 835.0,527.5"/>
<polyline points="835.0,528.0 850.0,530.0 850.1,577.3 860.2,594.1 856.8,621.1 855.2,638.0"/>
<polyline points="835.0,447.5 930.0,445.0 935.0,446.0 935.0,459.0 947.0,460.0"/>
<polyline points="850.1,547.0 917.5,547.0"/>
<polyline points="960.0,440.0 950.0,445.0 947.0,460.0 940.0,475.0 937.5,483.8 930.0,495.0 920.0,515.0 917.5,530.0 920.0,545.0 921.0,570.0 917.5,590.0 910.8,600.9 956.3,600.9 961.3,617.7"/>
<polyline points="900.4,326.0 900.4,339.0 906.8,351.8 919.5,366.7 921.6,375.2 930.1,376.0 932.0,382.0 931.0,394.0 940.0,402.0 947.0,409.0 950.0,420.0 954.0,427.0 959.0,428.0 960.0,440.0"/>
<polyline points="959.0,428.0 961.0,423.0 966.0,422.0 971.0,425.0 972.0,420.0 975.0,415.0 981.0,412.0 982.0,400.0 982.0,394.0 984.0,390.0 983.0,386.0 988.0,380.0 990.0,376.0 990.0,367.5 987.5,355.0 988.0,286.0"/>
<polyline points="982.0,399.0 990.0,397.0 995.0,398.0 1000.0,400.0 1005.0,397.0 1012.0,398.0 1017.0,393.0 1020.0,390.0 1026.0,391.0 1029.0,388.0 1030.0,384.0 1035.0,380.0 1042.0,368.0 1050.0,357.5"/>
<polyline points="1050.0,357.5 1062.5,365.0 1080.0,367.5 1095.0,372.5 1102.0,376.0"/>
<polyline points="1042.5,282.5 1050.0,357.5"/>
<polyline points="1004.0,281.0 1075.0,278.8"/>
<polyline points="1132.5,265.0 1137.5,325.0"/>
<polyline points="1137.5,325.0 1122.5,342.5 1115.0,355.0 1105.0,370.0 1102.0,376.0"/>
<polyline points="1102.0,376.0 1105.0,380.0 1115.0,392.5 1117.5,397.5 1097.5,417.5"/>
<polyline points="1117.5,397.5 1130.0,401.2 1145.0,395.0 1155.0,385.0 1162.5,370.0 1167.5,355.0 1177.5,342.5 1190.0,330.0"/>
<polyline points="1137.5,325.0 1165.0,325.0 1165.0,327.5 1167.5,335.0 1190.0,327.5 1200.0,317.5"/>
<polyline points="1165.0,325.0 1245.0,307.5 1250.0,305.0"/>
<polyline points="1200.0,317.5 1212.5,330.0 1225.0,332.5 1225.0,347.5 1240.0,352.0"/>
<polyline points="1247.5,312.5 1252.5,342.5 1267.5,342.5"/>
<polyline points="1146.2,260.0 1242.5,240.0 1255.0,255.0"/>
<polyline points="1255.0,255.0 1252.5,270.0 1255.0,285.0 1260.0,290.0 1250.0,305.0"/>
<polyline points="1255.0,255.0 1280.0,260.0"/>
<polyline points="1262.5,146.0 1267.5,180.0 1277.5,205.0 1280.0,207.5 1280.0,240.0 1281.2,260.0"/>
<polyline points="1297.5,135.0 1292.5,162.5 1291.0,205.0"/>
<polyline points="1310.0,125.0 1316.0,160.0 1325.0,180.0 1327.5,185.0"/>
<polyline points="1280.0,207.5 1291.0,205.0 1318.8,200.0 1326.0,193.0"/>
<polyline points="1280.0,225.0 1312.5,222.5 1317.0,223.0"/>
<polyline points="1315.0,222.5 1317.5,243.8"/>
<polyline points="1312.5,222.5 1317.0,223.0 1330.0,230.0"/>
<polyline points="960.0,440.0 984.0,440.0 984.0,434.0 1017.0,432.0 1050.0,428.0 1100.0,418.8 1130.0,416.2 1262.5,393.8"/>
<polyline points="1130.0,417.5 1127.5,427.5 1115.0,437.5 1097.5,450.0 1085.0,457.5 1077.5,470.0"/>
<polyline points="937.5,483.8 1077.5,471.2 1102.5,470.0"/>
<polyline points="988.8,482.5 990.0,614.4"/>
<polyline points="1045.0,477.5 1055.0,510.0 1065.0,540.0 1070.0,560.0 1070.8,589.0"/>
<polyline points="1008.5,597.5 1069.1,589.1 1072.5,594.1 1140.0,597.0 1148.0,588.0 1160.0,588.0"/>
<polyline points="1008.5,597.5 1004.0,612.0"/>
<polyline points="1102.5,470.0 1100.0,480.0 1112.0,484.0 1120.0,496.0 1130.0,506.0 1140.0,514.0 1148.0,524.0 1156.0,536.0 1164.0,544.0 1168.0,548.0"/>
<polyline points="1102.5,470.0 1122.5,462.5 1152.5,458.8 1160.0,466.2 1185.0,462.5 1217.5,486.2"/>
</g>
<path d="M252.4,19.6 L256.9,20.1 L264.7,23.5 L270.3,29.1 L277.1,33.6 L283.8,34.7 L285.0,39.2 L282.7,46.0 L279.3,51.6 L282.7,49.3 L289.4,46.0 L293.9,42.6 L295.0,37.0 L293.9,31.3 L296.2,24.6 L295.0,21.2 L293.9,13.4 L397.5,41.2 L530.0,65.0 L646.2,80.5 L780.0,87.0 L817.5,87.0 L817.5,72.5 L823.8,73.8 L828.8,91.2 L842.5,93.8 L852.5,95.0 L865.0,94.5 L880.0,102.5 L895.0,107.5 L903.8,103.8 L925.0,111.0 L920.0,117.5 L900.0,132.5 L885.0,145.0 L873.8,155.0 L890.0,147.5 L905.0,145.0 L917.5,152.5 L930.0,145.0 L937.5,140.0 L950.0,132.5 L960.0,123.8 L966.2,123.8 L962.5,130.0 L955.0,137.5 L962.5,141.2 L980.0,145.0 L995.0,142.5 L1010.0,138.8 L1020.0,140.0 L1035.0,146.2 L1042.5,155.0 L1040.0,157.5 L1030.0,159.0 L1017.5,160.0 L1005.0,164.0 L995.0,167.5 L987.5,171.0 L980.0,175.0 L975.0,182.5 L970.0,186.0 L975.0,200.0 L973.8,225.0 L973.8,250.0 L977.5,270.0 L985.0,282.5 L992.5,286.0 L1000.0,282.5 L1007.5,272.5 L1010.0,250.0 L1007.5,225.0 L1003.8,207.5 L1007.5,192.5 L1007.5,185.0 L1012.5,182.5 L1017.5,177.5 L1025.0,171.0 L1035.0,169.0 L1047.5,167.5 L1055.0,172.5 L1060.0,185.0 L1061.0,200.0 L1062.5,209.0 L1055.0,222.0 L1062.0,213.0 L1070.0,210.0 L1077.5,212.5 L1085.0,225.0 L1087.5,240.0 L1082.5,250.0 L1075.0,262.5 L1072.5,275.0 L1075.0,277.5 L1100.0,281.0 L1120.0,272.5 L1132.5,263.8 L1147.5,252.5 L1152.5,245.0 L1157.5,230.0 L1155.0,220.0 L1172.5,215.0 L1182.5,211.2 L1202.5,205.0 L1212.5,197.5 L1210.0,180.0 L1215.0,165.0 L1230.0,152.5 L1262.5,146.0 L1297.5,135.0 L1310.0,125.0 L1315.0,112.5 L1320.0,57.5 L1326.0,55.0 L1336.0,60.0 L1340.0,52.5 L1357.5,60.0 L1360.0,75.0 L1365.0,85.0 L1372.5,102.5 L1387.5,107.5 L1392.5,116.0 L1380.0,122.5 L1370.0,135.0 L1360.0,137.5 L1355.0,145.0 L1342.5,155.0 L1330.0,170.0 L1327.5,182.5 L1331.0,196.0 L1335.0,201.0 L1336.0,206.0 L1339.0,211.0 L1345.0,216.0 L1350.0,216.0 L1352.5,210.0 L1357.5,217.5 L1356.0,220.0 L1350.0,222.5 L1340.0,227.5 L1335.0,230.0 L1330.0,230.0 L1325.0,236.0 L1317.5,242.5 L1310.0,245.0 L1302.5,246.0 L1294.0,248.5 L1289.0,251.0 L1285.0,256.0 L1281.0,261.0 L1280.0,272.5 L1282.5,285.0 L1280.0,305.0 L1272.5,315.0 L1265.0,320.0 L1257.0,313.0 L1250.0,307.0 L1252.4,314.0 L1264.7,317.5 L1266.4,324.5 L1270.0,335.0 L1270.0,342.0 L1266.4,349.0 L1266.4,370.0 L1263.0,378.7 L1259.4,378.7 L1262.0,394.4 L1263.0,403.0 L1252.4,410.0 L1252.4,413.6 L1264.7,417.0 L1271.7,417.0 L1273.4,422.4 L1268.2,426.0 L1259.4,429.4 L1254.2,432.9 L1252.5,437.5 L1260.0,445.0 L1260.0,455.0 L1247.5,460.0 L1235.0,470.0 L1227.5,477.5 L1217.5,486.2 L1208.0,498.0 L1206.0,506.0 L1200.0,514.0 L1192.0,524.0 L1188.0,530.0 L1176.0,532.0 L1174.0,540.0 L1168.0,544.0 L1166.0,550.0 L1164.0,560.0 L1160.0,570.0 L1158.0,580.0 L1160.0,590.0 L1162.0,600.0 L1173.6,617.7 L1183.7,637.9 L1198.0,659.0 L1207.0,672.5 L1213.0,684.5 L1214.4,695.0 L1216.0,710.0 L1216.0,725.0 L1214.4,740.0 L1211.4,747.4 L1210.0,741.4 L1202.4,740.0 L1195.0,743.0 L1190.4,734.0 L1186.0,728.0 L1180.0,725.0 L1172.5,717.4 L1168.0,710.0 L1162.0,699.4 L1156.0,693.4 L1150.0,689.0 L1145.0,680.0 L1139.9,664.9 L1136.5,648.0 L1133.2,634.6 L1119.7,624.5 L1106.2,616.0 L1089.4,617.7 L1072.5,624.5 L1055.7,617.7 L1035.4,609.3 L1022.0,609.3 L1011.9,609.3 L1001.8,614.4 L998.4,600.9 L995.0,611.0 L988.3,614.4 L967.0,616.3 L963.7,619.6 L957.1,621.2 L950.6,617.9 L944.0,619.6 L942.4,624.5 L945.6,627.8 L952.2,626.1 L957.1,629.4 L963.7,629.4 L965.4,632.7 L962.1,639.3 L965.4,644.2 L971.9,650.8 L973.6,654.0 L967.0,652.4 L960.4,649.1 L953.9,645.9 L948.9,652.4 L930.9,654.0 L922.6,652.4 L912.8,642.6 L901.3,637.6 L894.7,639.3 L891.4,644.2 L875.0,640.9 L858.6,639.3 L848.7,639.3 L838.9,644.2 L833.9,647.5 L832.3,639.3 L829.0,641.0 L827.4,652.4 L825.7,662.3 L809.3,672.1 L801.0,678.7 L799.4,675.4 L792.9,675.4 L789.6,682.0 L779.7,691.9 L769.9,700.0 L764.0,714.7 L767.0,733.4 L771.7,752.2 L751.5,749.0 L739.0,745.9 L726.5,739.7 L714.0,721.0 L710.9,702.2 L698.4,686.6 L685.9,661.7 L673.4,646.1 L661.0,635.2 L632.9,633.6 L620.4,649.2 L611.0,655.4 L604.8,649.2 L583.0,630.5 L579.8,602.4 L544.0,563.4 L542.4,561.8 L500.3,563.4 L498.7,572.8 L480.0,571.2 L430.0,567.5 L352.5,515.0 L330.0,510.0 L296.2,506.2 L295.0,492.5 L292.5,482.5 L285.0,472.5 L275.0,465.0 L272.5,455.0 L262.5,447.5 L245.0,436.2 L231.2,428.8 L230.0,407.5 L215.0,372.0 L212.5,355.0 L210.0,337.5 L212.5,325.0 L220.0,317.5 L212.5,315.0 L202.5,302.5 L195.0,290.0 L197.5,270.0 L196.0,255.0 L192.5,240.0 L197.5,230.0 L207.5,215.0 L208.8,195.0 L211.0,172.0 L215.1,160.0 L228.6,130.0 L232.0,121.0 L240.0,103.0 L246.7,87.5 L251.2,86.4 L256.9,85.0 L256.9,83.0 L250.1,77.4 L249.0,74.0 L250.1,68.4 L251.2,64.0 L252.4,59.4 L251.2,55.0 L251.2,32.5Z" fill="none" stroke="#0c0c10" stroke-width="2.8" stroke-linejoin="round"/>
<path d="M1237.6,322.7 L1242.8,321.5 L1245.5,329.7 L1247.2,343.7 L1252.4,350.7 L1256.0,359.4 L1257.7,370.0 L1259.4,378.7 L1263.0,380.0 L1268.0,385.0 L1268.0,392.0 L1262.0,394.4 L1256.0,393.0 L1252.4,387.4 L1250.7,378.7 L1249.0,366.4 L1247.2,357.7 L1242.0,356.0 L1229.7,350.7 L1222.7,345.5 L1226.0,344.0 L1235.0,349.5 L1240.2,345.5 L1238.5,335.0Z" fill="#fff"/>
<polyline points="1237.6,322.7 1238.5,335.0 1240.2,345.5 1235.0,349.5 1226.0,344.0 1222.7,345.5 1229.7,350.7 1242.0,356.0 1247.2,357.7 1249.0,366.4 1250.7,378.7 1252.4,387.4 1256.0,393.0 1262.0,394.4" fill="none" stroke="#111" stroke-width="2" stroke-linejoin="round"/>
<polyline points="1242.8,321.5 1245.5,329.7 1247.2,343.7 1252.4,350.7 1256.0,359.4 1257.7,370.0 1259.4,378.7 1263.0,378.7" fill="none" stroke="#111" stroke-width="2" stroke-linejoin="round"/>
<path d="M983.0,184.0 L982.0,192.0 L978.0,198.0 L971.0,204.0 L970.0,202.0 L974.0,194.0 L980.0,188.0Z" fill="#fff" stroke="#111" stroke-width="1.6" stroke-linejoin="round"/>
<path d="M1282.0,263.0 L1290.0,257.0 L1298.0,253.0 L1306.0,250.0 L1315.0,247.0 L1319.0,250.5 L1316.0,255.0 L1306.0,259.5 L1297.5,264.0 L1287.5,269.0 L1281.0,270.0Z" fill="#34cc4a" stroke="#111" stroke-width="2" stroke-linejoin="round"/>
<g clip-path="url(#ak)">
<rect x="300" y="580" width="280" height="220" fill="#3b19f0"/>
<path d="M345.0,625.0 L364.0,605.0 L392.0,590.0 L460.0,600.0 L462.0,612.0 L452.0,612.0 L443.6,609.2 L436.7,617.5 L416.1,629.8 L388.7,628.5 L365.3,620.2 L352.0,624.0Z" fill="#dc14f0"/>
<path d="M368.0,613.3 L388.7,607.9 L416.1,609.2 L432.6,614.7 L427.1,621.6 L402.4,624.3 L381.8,623.0 L368.0,618.8Z" fill="#7040d8"/>
<path d="M362.0,634.0 L380.0,636.0 L402.5,640.4 L425.0,641.2 L440.0,639.0 L450.5,636.0 L462.8,633.0 L466.0,648.0 L450.5,649.0 L436.7,655.9 L423.0,660.0 L416.1,666.9 L402.4,669.6 L391.4,677.9 L388.0,690.0 L386.0,705.0 L382.0,717.0 L376.0,712.0 L375.0,695.0 L372.2,672.0 L370.0,656.0 L366.0,645.0Z" fill="#dc14f0"/>
<path d="M440.0,672.0 L455.0,668.0 L470.0,672.0 L475.0,690.0 L472.0,705.0 L460.0,700.0 L448.0,690.0 L440.0,680.0Z" fill="#dc14f0"/>
<path d="M375.0,658.0 L385.0,657.0 L391.0,665.0 L389.0,678.0 L382.0,680.0 L376.0,670.0Z" fill="#7040d8"/>
<path d="M425.0,650.0 L440.0,645.0 L455.0,642.0 L462.0,648.0 L445.0,652.0 L430.0,655.0Z" fill="#7040d8"/>
<path d="M334.0,690.0 L345.0,686.0 L360.0,684.0 L368.0,690.0 L372.0,700.0 L370.0,712.0 L378.0,716.0 L390.0,712.0 L395.0,725.0 L396.0,740.0 L385.0,746.0 L370.0,746.0 L355.0,744.0 L350.0,730.0 L338.0,722.0 L334.0,708.0Z" fill="#3f6af3"/>
<path d="M427.0,656.0 L436.0,655.0 L443.6,660.0 L441.0,668.0 L430.0,669.6 L426.0,663.0Z" fill="#3f6af3"/>
<path d="M444.0,668.0 L456.0,666.0 L464.2,672.0 L462.0,679.0 L450.0,680.0 L443.6,675.0Z" fill="#3f6af3"/>
<path d="M400.0,700.0 L410.0,696.0 L420.0,700.0 L418.0,712.0 L408.0,716.0 L400.0,710.0Z" fill="#3f6af3"/>
<path d="M357.3,692.5 L373.6,692.5 L378.4,708.7 L375.2,724.9 L368.7,733.0 L363.8,724.9 L360.6,708.7Z" fill="#3b19f0"/>
<path d="M385.0,731.0 L394.0,730.0 L401.0,735.0 L398.0,741.0 L388.0,741.0Z" fill="#4acdff"/>
<path d="M370.0,755.0 L385.0,748.0 L400.0,745.0 L398.0,754.0 L385.0,760.0 L372.0,762.0Z" fill="#4acdff"/>
<path d="M414.0,712.0 L425.0,710.0 L440.0,712.0 L460.0,714.0 L480.0,714.0 L500.0,714.0 L515.0,716.0 L530.0,726.0 L548.0,742.0 L560.0,752.0 L560.0,760.0 L540.0,752.0 L530.0,745.0 L515.0,738.0 L505.0,733.0 L490.0,730.0 L470.0,730.0 L450.0,730.0 L440.0,730.0 L430.0,738.0 L414.0,742.0Z" fill="#4acdff"/>
<path d="M326.0,788.0 L335.0,780.0 L350.0,774.0 L362.0,768.0 L372.0,764.0 L374.0,772.0 L360.0,781.0 L344.0,787.5Z" fill="#1f9925"/>
<path d="M440.0,717.0 L448.0,714.0 L460.0,718.0 L475.0,722.0 L478.0,728.0 L460.0,728.0 L448.0,727.0Z" fill="#1f9925"/>
<path d="M505.0,733.8 L522.5,737.5 L535.0,748.8 L547.5,752.5 L557.5,757.5 L570.0,762.0 L565.0,780.0 L545.0,780.0 L530.0,768.0 L505.0,745.0Z" fill="#1f9925"/>
</g>
<path d="M350.2,621.6 L355.7,618.8 L363.9,613.3 L369.4,606.5 L377.7,602.4 L385.9,599.6 L392.8,595.5 L396.9,596.2 L402.4,599.6 L409.3,600.3 L414.8,603.7 L423.0,604.4 L432.6,606.5 L443.6,607.9 L456.0,609.2 L460.1,612.0 L476.3,690.0 L478.8,718.8 L487.5,719.4 L492.5,722.5 L503.8,730.0 L507.5,728.8 L511.3,721.3 L515.0,720.6 L522.5,725.0 L535.0,736.3 L546.3,748.8 L557.5,751.3 L561.3,757.5 L563.8,763.8 L560.0,767.5 L555.0,768.8 L550.0,773.8 L546.3,772.5 L540.0,767.5 L532.5,761.3 L526.3,757.5 L517.5,748.8 L512.5,740.0 L507.5,736.3 L500.0,730.0 L491.3,727.5 L478.8,726.3 L467.5,726.3 L459.6,725.5 L449.8,724.9 L446.6,721.7 L440.1,720.1 L436.9,724.9 L433.6,731.4 L427.1,734.7 L417.4,739.5 L414.1,737.9 L417.4,729.8 L422.3,721.7 L423.9,716.8 L420.6,715.2 L417.4,720.1 L414.1,728.2 L410.9,734.7 L404.4,746.0 L397.9,754.1 L389.8,760.6 L376.8,772.0 L362.2,780.1 L344.3,786.6 L329.7,788.2 L328.1,785.0 L339.5,780.1 L352.5,773.6 L365.4,767.1 L373.6,760.6 L380.1,754.1 L380.1,747.6 L371.9,744.4 L362.2,744.4 L354.1,742.8 L352.5,728.2 L341.1,724.9 L339.5,718.4 L334.6,708.7 L336.2,699.0 L342.7,692.5 L346.0,687.6 L357.3,684.3 L365.4,682.7 L368.7,676.2 L367.1,673.0 L359.0,671.4 L347.6,669.7 L340.6,666.9 L339.2,657.3 L335.1,653.2 L344.7,650.4 L351.6,647.7 L357.1,647.7 L361.2,650.4 L365.3,650.4 L361.2,642.2 L358.5,636.7 L353.0,628.5Z" fill="none" stroke="#111" stroke-width="2.6" stroke-linejoin="round"/>
<path d="M397.9,760.6 L404.4,752.5 L412.5,747.6 L418.2,752.5 L414.1,759.0 L409.3,763.9 L404.4,770.4 L399.5,770.4Z" fill="#1f9925" stroke="#111" stroke-width="2.2" stroke-linejoin="round"/>
<path d="M322.0,721.0 L327.0,719.5 L331.0,722.0 L331.4,726.5 L326.0,726.0 L322.0,724.0Z" fill="#fff" stroke="#111" stroke-width="1.8" stroke-linejoin="round"/>
<path d="M189.0,538.5 L193.5,536.7 L201.0,537.0 L203.2,540.0 L201.7,546.0 L196.5,547.5 L190.5,544.5Z" fill="#ea3620" stroke="#3a0606" stroke-width="2.6" stroke-linejoin="round"/>
<path d="M234.7,553.5 L239.9,552.7 L245.9,558.0 L252.6,563.2 L250.4,565.4 L242.9,563.2 L236.9,561.0 L234.7,557.2Z" fill="#ea3620" stroke="#3a0606" stroke-width="2.6" stroke-linejoin="round"/>
<path d="M262.4,564.7 L266.9,564.2 L281.9,568.4 L281.9,572.2 L274.4,572.9 L263.9,570.0Z" fill="#ea3620" stroke="#3a0606" stroke-width="2.6" stroke-linejoin="round"/>
<path d="M283.4,573.7 L287.8,573.7 L296.8,577.4 L302.1,582.7 L298.3,584.9 L290.8,586.4 L287.8,581.9 L283.4,578.2Z" fill="#ea3620" stroke="#3a0606" stroke-width="2.6" stroke-linejoin="round"/>
<path d="M307.3,595.4 L314.8,596.9 L326.8,602.9 L334.3,610.4 L341.0,618.6 L335.8,622.4 L326.8,626.9 L317.8,635.8 L311.8,637.3 L307.3,634.3 L305.8,623.9 L302.8,611.9 L305.8,605.9Z" fill="#ea3620" stroke="#3a0606" stroke-width="2.6" stroke-linejoin="round"/>
<path d="M326.8,603.5 L334.3,610.4 L339.5,618.2 L335.8,621.4 L329,619 L326,610Z" fill="#b81812"/>
<path d="M306.5,625 L309,633.5 L313,636 L318,634 L312,628Z" fill="#b81812"/>
<g clip-path="url(#pr)">
<rect x="940" y="700" width="150" height="60" fill="#f2700f"/>
<path d="M950.0,721.9 L981.4,719.4 L999.6,718.2 L1017.9,720.6 L1042.1,724.3 L1070.0,724.3 L1060.4,731.6 L1048.2,740.1 L1030.0,741.3 L1005.7,741.3 L981.4,738.9 L950.0,736.4Z" fill="#f03a26"/>
<path d="M955.0,729.1 L979.0,732.8 L991.1,725.5 L1005.7,726.7 L1023.9,730.4 L1042.1,735.2 L1048.2,738.9 L1030.0,740.1 L1005.7,738.9 L987.5,738.9 L979.0,735.2 L963.2,731.6Z" fill="#a8100c"/>
</g>
<path d="M958.4,710.9 L981.4,709.7 L1011.8,710.3 L1042.1,712.1 L1045.8,711.5 L1054.3,715.8 L1073.7,718.2 L1074.9,724.3 L1076.1,730.4 L1066.4,734.0 L1060.4,738.9 L1054.3,748.6 L1048.2,751.0 L1030.0,751.0 L1017.9,749.8 L1005.7,751.0 L993.6,751.0 L981.4,750.4 L969.3,752.2 L955.9,751.0 L957.1,736.4 L957.1,727.9 L952.3,724.3 L952.3,720.6 L958.4,719.4Z" fill="none" stroke="#2a0a0a" stroke-width="2.4" stroke-linejoin="round"/>
<path d="M1077.4,740.1 L1084.6,737.6 L1100.4,736.4 L1102.9,738.9 L1096.8,742.5 L1084.6,743.7 L1077.4,742.5Z" fill="#f2700f" stroke="#2a0a0a" stroke-width="2" stroke-linejoin="round"/>
<path d="M1104.2,722.8 L1103.4,724.4 L1101.3,725.4 L1098.7,725.4 L1096.6,724.4 L1095.8,722.8 L1096.6,721.2 L1098.7,720.2 L1101.3,720.2 L1103.4,721.2Z" fill="#f2700f" stroke="#2a0a0a" stroke-width="2" stroke-linejoin="round"/>
<path d="M1179.0,764.0 L1184.0,758.5 L1190.0,756.0 L1191.5,758.0 L1186.0,763.0 L1181.0,765.5Z" fill="#f59a32" stroke="#111" stroke-width="1.6" stroke-linejoin="round"/>
<path d="M1207.2,752.5 L1206.4,753.9 L1204.8,753.9 L1204.0,752.5 L1204.8,751.1 L1206.4,751.1Z" fill="#f59a32" stroke="#111" stroke-width="1.6" stroke-linejoin="round"/>
</svg>
<ul class="leg">
<li style="top:49.8px;color:#5c36d2">Zone 1</li>
<li style="top:105.2px;color:#c92ee8">Zone 2</li>
<li style="top:160.6px;color:#3b20ea">Zone 3</li>
<li style="top:216.0px;color:#4566e2">Zone 4</li>
<li style="top:271.4px;color:#52c4ee">Zone 5</li>
<li style="top:326.8px;color:#22982a">Zone 6</li>
<li style="top:382.2px;color:#3ec24c">Zone 7</li>
<li style="top:437.6px;color:#a2ee4c">Zone 8</li>
<li style="top:493.0px;color:#f4f84a">Zone 9</li>
<li style="top:548.4px;color:#ec9a42">Zone 10</li>
<li style="top:603.8px;color:#ec6c24">Zone 11</li>
<li style="top:659.2px;color:#ea3a2c">Zone 12</li>
<li style="top:714.6px;color:#9e1414">Zone 13</li>
</ul>
</body></html>
